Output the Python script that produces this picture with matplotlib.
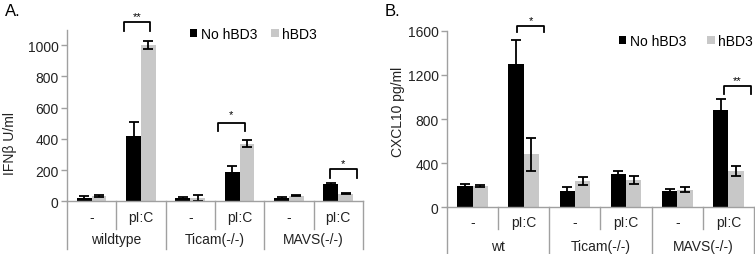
import numpy as np
import matplotlib
matplotlib.use("Agg")
import matplotlib.pyplot as plt
from matplotlib.patches import Patch
import matplotlib.transforms as mtransforms

# categories
treatments = ["-", "pI:C", "-", "pI:C", "-", "pI:C"]
groups_a = ["wildtype", "Ticam(-/-)", "MAVS(-/-)"]
groups_b = ["wt", "Ticam(-/-)", "MAVS(-/-)"]
series = ["No hBD3", "hBD3"]

# panel A: IFNb U/ml
ifn_no = [20, 420, 20, 185, 20, 108]
ifn_no_err = [12, 88, 10, 40, 10, 7]
ifn_hbd = [35, 1000, 22, 370, 35, 47]
ifn_hbd_err = [5, 25, 18, 22, 3, 3]

# panel B: CXCL10 pg/ml
cx_no = [190, 1295, 150, 302, 150, 885]
cx_no_err = [20, 225, 30, 30, 15, 95]
cx_hbd = [190, 480, 240, 245, 160, 330]
cx_hbd_err = [10, 150, 35, 35, 20, 47]

# significance marks: (category, label, x0, x1, top, leg bottom, text y)
sig_a = [(1, "**", -0.34, 0.19, 1150, 1090, 1185),
         (3, "*", -0.44, 0.10, 505, 450, 560),
         (5, "*", -0.16, 0.37, 207, 152, 245)]
sig_b = [(1, "*", -0.13, 0.40, 1645, 1585, 1700),
         (5, "**", -0.09, 0.44, 1100, 1025, 1155)]

BLACK = "#000000"
GREY = "#c8c8c8"
AXC = "#a0a0a0"
W = 0.3
FS = 10

plt.rcParams['font.family'] = ['Liberation Sans', 'DejaVu Sans']

fig = plt.figure(figsize=(7.55, 2.55), dpi=100)
axA = fig.add_axes([0.0887, 0.2067, 0.392, 0.6729])
axB = fig.add_axes([0.592, 0.1831, 0.4066, 0.6926])


def draw_panel(ax, no, no_err, hbd, hbd_err, groups, ymax, ticks, ylabel,
               lab_pos, txt_y, grp_y, short_y, long_y, sigs, leg_pos, colsp):
    x = np.arange(len(treatments))
    ekw = dict(ecolor=BLACK, elinewidth=1.3, capsize=3.6, capthick=1.3)
    ax.bar(x - W / 2, no, W, color=BLACK, yerr=no_err, error_kw=ekw, zorder=2)
    ax.bar(x + W / 2, hbd, W, color=GREY, yerr=hbd_err, error_kw=ekw, zorder=2)
    ax.set_xlim(-0.5, len(treatments) - 0.5)
    ax.set_ylim(0, ymax)
    ax.set_yticks(ticks)
    ax.set_xticks([])
    for s in ["top", "right"]:
        ax.spines[s].set_visible(False)
    for s in ["left", "bottom"]:
        ax.spines[s].set_color(AXC)
        ax.spines[s].set_linewidth(1.0)
    ax.tick_params(axis="y", colors=AXC, length=4, width=1.0, labelsize=FS,
                   labelcolor="#222222", pad=2)
    ax.set_ylabel(ylabel, fontsize=FS, color="#222222")
    ax.yaxis.set_label_coords(*lab_pos)

    trans = mtransforms.blended_transform_factory(ax.transData, ax.transAxes)
    for i, t in enumerate(treatments):
        ax.text(i, txt_y, t, transform=trans, ha="center", va="center",
                fontsize=FS, color="#222222")
    for g, name in enumerate(groups):
        ax.text(2 * g + 0.5, grp_y, name, transform=trans, ha="center",
                va="center", fontsize=FS, color="#222222")
    for k in range(len(treatments) + 1):
        b = k - 0.5
        end = long_y if k % 2 == 0 else short_y
        ax.plot([b, b], [0, end], transform=trans, color=AXC, lw=1.0,
                clip_on=False)

    for cat, lab, x0, x1, top, bot, ty in sigs:
        ax.plot([cat + x0, cat + x0, cat + x1, cat + x1], [bot, top, top, bot],
                color=BLACK, lw=1.3, clip_on=False, zorder=3)
        ax.text(cat + (x0 + x1) / 2, ty, lab, ha="center", va="center",
                fontsize=8, clip_on=False)

    handles = [Patch(facecolor=BLACK), Patch(facecolor=GREY)]
    ax.legend(handles, series, loc="center right", bbox_to_anchor=leg_pos,
              ncol=2, frameon=False, fontsize=FS, handlelength=0.55,
              handleheight=0.55, handletextpad=0.25, columnspacing=colsp,
              borderaxespad=0, borderpad=0)


draw_panel(axA, ifn_no, ifn_no_err, ifn_hbd, ifn_hbd_err, groups_a, 1100,
           [0, 200, 400, 600, 800, 1000], "IFN\u03b2 U/ml", (-0.17, 0.345),
           -0.0915, -0.22, -0.161, -0.278, sig_a, (0.845, 0.975), 1.0)
draw_panel(axB, cx_no, cx_no_err, cx_hbd, cx_hbd_err, groups_b, 1600,
           [0, 400, 800, 1200, 1600], "CXCL10 pg/ml", (-0.137, 0.545),
           -0.083, -0.219, -0.123, -0.264, sig_b, (0.997, 0.942), 1.5)

fig.text(0.007, 0.955, "A.", fontsize=12, va="center", ha="left")
fig.text(0.51, 0.955, "B.", fontsize=12, va="center", ha="left")

fig.savefig("out.png", dpi=100)
